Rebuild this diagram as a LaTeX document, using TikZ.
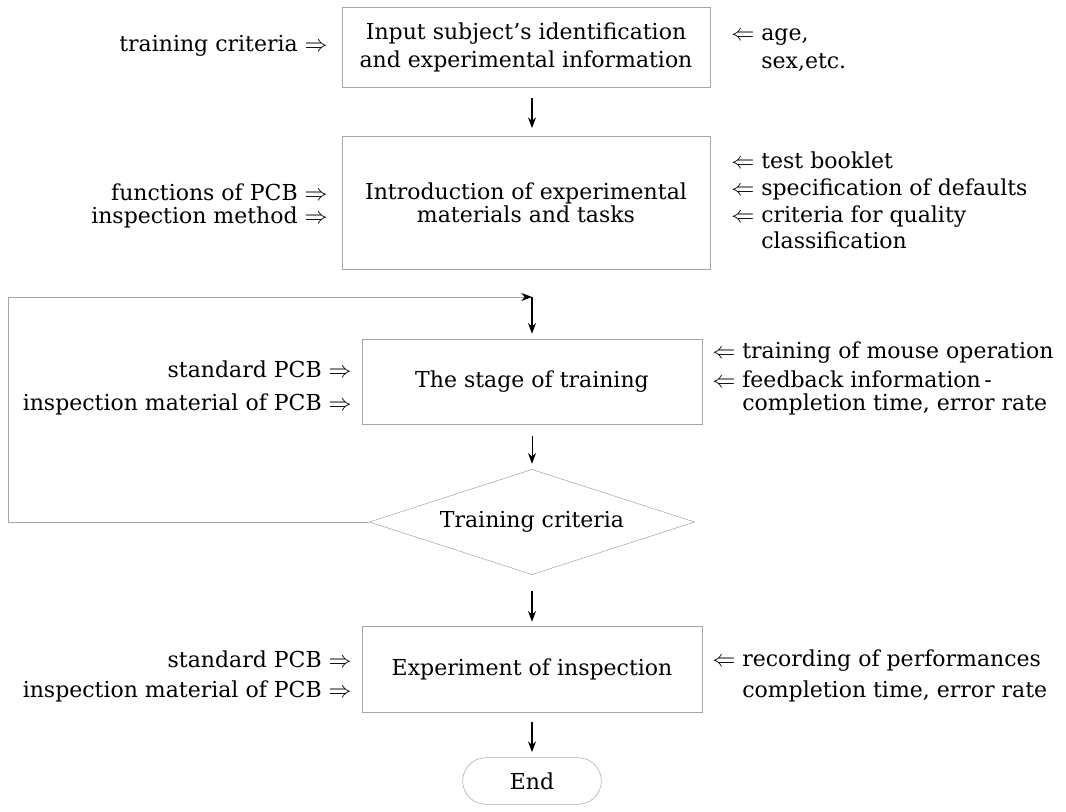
\documentclass[tikz,border=0pt]{standalone}
\usepackage{fontspec}
\setmainfont{DejaVu Serif}
\usetikzlibrary{arrows.meta, positioning, shapes.geometric, shapes.misc}

\tikzset{
    stepbox/.style={draw=gray!70, thin, rectangle, align=center, inner sep=0pt},
    checkbox/.style={draw=gray!70, thin, diamond, inner sep=0pt},
    endbox/.style={draw=gray!70, thin, rounded rectangle, inner sep=0pt},
    flow/.style={-{Stealth[length=8pt,width=6pt]}, thick, black},
    loopline/.style={draw=gray!70, thin},
    inlabel/.style={anchor=mid east, inner sep=0pt},
    outlabel/.style={anchor=mid west, inner sep=0pt}
}

\begin{document}
\begin{tikzpicture}[x=0.75pt, y=-0.75pt]
    \fontsize{16.5}{21}\selectfont
    \useasboundingbox (0,0) rectangle (1066,812);

    % Flow steps
    \node[stepbox, minimum width=276pt, minimum height=60pt] (input) at (526,47)
        {Input subject's identification\\and experimental information};
    \node[stepbox, minimum width=276pt, minimum height=100pt] (intro) at (526,203)
        {Introduction of experimental\\[-3.75pt]materials and tasks};
    \node[stepbox, minimum width=255pt, minimum height=64pt] (train) at (532,382)
        {The stage of training};
    \node[checkbox, aspect=3, minimum width=244pt, minimum height=79pt] (check) at (532,522)
        {Training criteria};
    \node[stepbox, minimum width=255pt, minimum height=64.5pt] (exper) at (532,669)
        {Experiment of inspection};
    \node[endbox, minimum width=104pt, minimum height=35pt] (end) at (532,781) {End};

    % Inputs on the left
    \node[inlabel] (crit) at (328,46) {training criteria $\Rightarrow$};
    \node[inlabel] (func) at (328,195) {functions of PCB $\Rightarrow$};
    \node[inlabel] (meth) at (328,218) {inspection method $\Rightarrow$};
    \node[inlabel] (stdA) at (352,372) {standard PCB $\Rightarrow$};
    \node[inlabel] (matA) at (352,405) {inspection material of PCB $\Rightarrow$};
    \node[inlabel] (stdB) at (352,662) {standard PCB $\Rightarrow$};
    \node[inlabel] (matB) at (352,692) {inspection material of PCB $\Rightarrow$};

    % Inputs on the right
    \node[outlabel] (age) at (731,35) {$\Leftarrow$ age,};
    \node[outlabel] (sex) at (731,63) {\hphantom{$\Leftarrow$ }sex,etc.};
    \node[outlabel] (book) at (731,163) {$\Leftarrow$ test booklet};
    \node[outlabel] (spec) at (731,190) {$\Leftarrow$ specification of defaults};
    \node[outlabel] (qual) at (731,217) {$\Leftarrow$ criteria for quality};
    \node[outlabel] (clas) at (731,243) {\hphantom{$\Leftarrow$ }classification};
    \node[outlabel] (mouse) at (712,353) {$\Leftarrow$ training of mouse operation};
    \node[outlabel] (feed) at (712,382) {$\Leftarrow$ feedback information\,-};
    \node[outlabel] (timeA) at (712,405) {\hphantom{$\Leftarrow$ }completion time, error rate};
    \node[outlabel] (rec) at (712,661) {$\Leftarrow$ recording of performances};
    \node[outlabel] (timeB) at (712,692) {\hphantom{$\Leftarrow$ }completion time, error rate};

    % Loop back from the check
    \coordinate (loopleft) at (8,297);
    \coordinate (corner) at (532,297);
    \draw[loopline, -{Stealth[length=8pt,width=6pt,black]}] (check.west) -| (loopleft) -- (corner);

    % Arrows between steps
    \draw[flow, shorten <=8pt, shorten >=6pt] (input.south -| corner) -- (intro.north -| corner);
    \draw[flow, shorten >=4pt] (corner) -- (train.north);
    \draw[flow, semithick, shorten <=8pt, shorten >=4pt] (train) -- (check);
    \draw[flow, shorten <=12pt, shorten >=3pt] (check) -- (exper);
    \draw[flow, shorten <=7pt, shorten >=4pt] (exper) -- (end);
\end{tikzpicture}
\end{document}
